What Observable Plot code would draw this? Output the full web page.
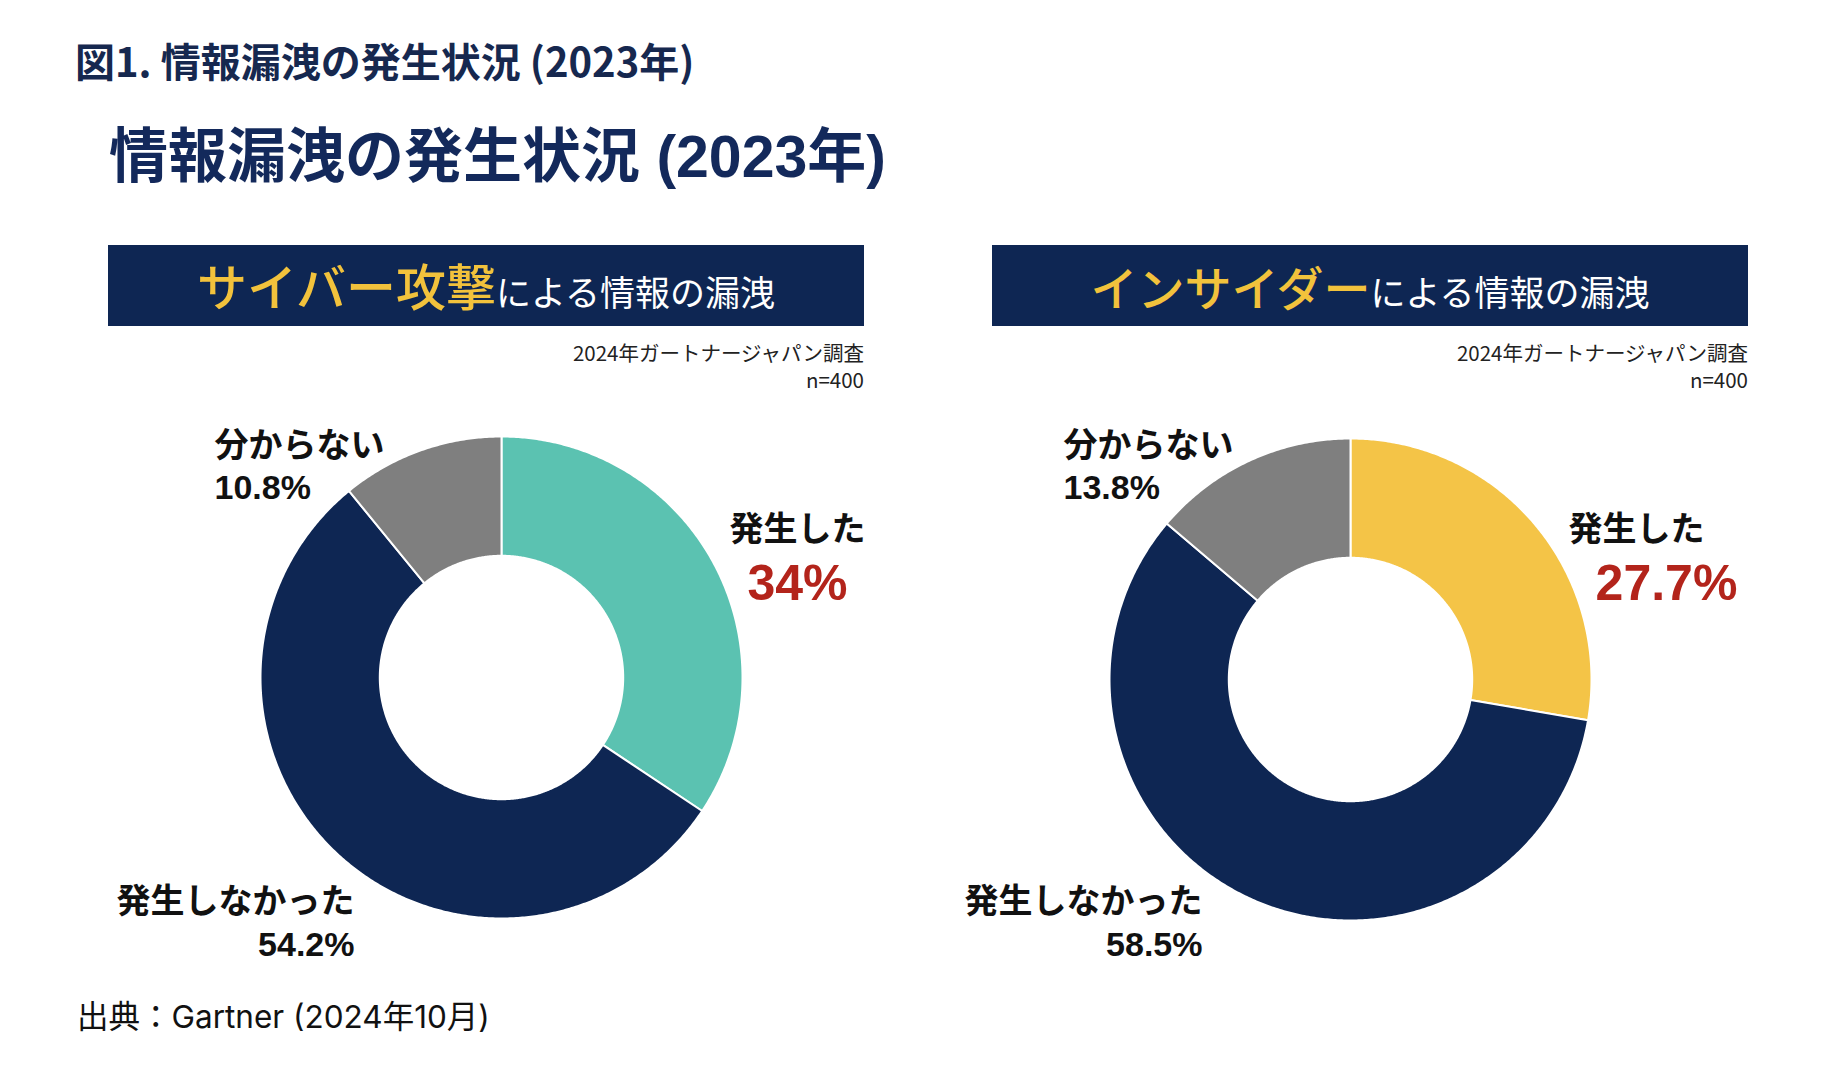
<!DOCTYPE html>
<html>
<head>
<meta charset="utf-8">
<script src="https://cdn.jsdelivr.net/npm/d3@7"></script>
<script src="https://cdn.jsdelivr.net/npm/@observablehq/plot@0.6"></script>
<style>
  html, body { margin: 0; padding: 0; background: #ffffff; }
  #page { position: relative; width: 1836px; height: 1076px; overflow: hidden; background: #ffffff; }
  .abs { position: absolute; white-space: nowrap; }
  .fig-label { left: 75px; top: 40px; font: 700 40px/1 "Noto Sans CJK JP", sans-serif; color: #16284f; }
  .chart-title { left: 109px; top: 128px; font: 700 59px/1 "Liberation Sans", "Noto Sans CJK JP", sans-serif; color: #13295b; }
  .banner { background: #0e2653; height: 81px; width: 756px; top: 245px; }
  .banner-text { position: absolute; left: 0; right: 0; top: 14px; text-align: center; font-size: 50px; line-height: 1; font-family: "Noto Sans CJK JP", sans-serif; }
  .banner-text .hl { color: #f2c23c; font-weight: 500; line-height: 1; }
  .banner-text .rest { color: #ffffff; font-size: 35px; font-weight: 400; line-height: 1; }
  .note { width: 756px; top: 339px; text-align: right; font: 400 20.5px/27px "Noto Sans CJK JP", sans-serif; color: #222; }
  .caption { left: 77px; top: 1001px; font: 400 31.5px/1 Inter, "Noto Sans CJK JP", sans-serif; color: #111; }
</style>
</head>
<body>
<div id="page"></div>
<script>
// ---- data ----
const categories = ["発生した", "発生しなかった", "分からない"];
const cyberValues = [34, 54.2, 10.8];
const insiderValues = [27.7, 58.5, 13.8];
const figureLabel = "図1. 情報漏洩の発生状況 (2023年)";
const chartTitle = "情報漏洩の発生状況 (2023年)";
const panelHighlights = ["サイバー攻撃", "インサイダー"];
const panelSuffix = "による情報の漏洩";
const surveyNote = ["2024年ガートナージャパン調査", "n=400"];
const sourceCaption = "出典：Gartner (2024年10月)";

// ---- styles / layout ----
const navy = "#0e2653";
const gray = "#7f7f7f";
const labelFont = '"Liberation Sans", "Noto Sans CJK JP", sans-serif';
const R = 241;            // outer radius in px
const innerRatio = 0.505; // hole size
const M = {left: 80, right: 180, top: 40, bottom: 80};

const page = document.getElementById("page");
function addDiv(cls, html, style) {
  const d = document.createElement("div");
  d.className = "abs " + cls;
  d.innerHTML = html;
  if (style) Object.assign(d.style, style);
  page.appendChild(d);
  return d;
}

addDiv("fig-label", figureLabel);
addDiv("chart-title", chartTitle);

const bannerLefts = [108, 992];
const highlightSizes = [50, 47];
panelHighlights.forEach((h, i) => {
  const b = addDiv("banner", "", {left: bannerLefts[i] + "px"});
  const t = document.createElement("div");
  t.className = "banner-text";
  t.innerHTML = `<span class="hl" style="font-size:${highlightSizes[i]}px">${h}</span><span class="rest">${panelSuffix}</span>`;
  b.appendChild(t);
  addDiv("note", surveyNote.join("<br>"), {left: bannerLefts[i] + "px"});
});

addDiv("caption", sourceCaption);

function donut(values, colors, lay) {
  const rows = categories.map((c, i) => ({category: c, value: values[i]}));
  const arcs = d3.pie().sort(null).value(d => d.value)(rows);
  const features = arcs.map(a => {
    const n = Math.max(2, Math.ceil((a.endAngle - a.startAngle) / (Math.PI / 360)));
    const ring = [];
    for (let i = 0; i <= n; i++) {
      const t = a.startAngle + (a.endAngle - a.startAngle) * i / n;
      ring.push([Math.sin(t), Math.cos(t)]);
    }
    for (let i = n; i >= 0; i--) {
      const t = a.startAngle + (a.endAngle - a.startAngle) * i / n;
      ring.push([innerRatio * Math.sin(t), innerRatio * Math.cos(t)]);
    }
    ring.push(ring[0]);
    return {type: "Feature", properties: a.data, geometry: {type: "Polygon", coordinates: [ring]}};
  });
  const common = {frameAnchor: "middle", fontFamily: labelFont, fontWeight: "bold"};
  return Plot.plot({
    width: M.left + 2 * R + M.right,
    height: M.top + 2 * R + M.bottom,
    marginLeft: M.left, marginRight: M.right, marginTop: M.top, marginBottom: M.bottom,
    projection: {type: "reflect-y", inset: 0, domain: {type: "MultiPoint", coordinates: [[-1, -1], [1, 1], [-1, 1], [1, -1]]}},
    color: {domain: categories, range: colors},
    style: {background: "transparent", overflow: "visible", fontFamily: labelFont},
    marks: [
      Plot.geo(features, {fill: d => d.properties.category, stroke: "#ffffff", strokeWidth: 2}),
      Plot.text([rows[0].category], {...common, dx: lay.occ[0], dy: lay.occ[1], textAnchor: "middle", lineAnchor: "middle", fontSize: 34, fill: "#111111"}),
      Plot.text([`${rows[0].value}%`], {...common, dx: lay.occPct[0], dy: lay.occPct[1], textAnchor: "middle", lineAnchor: "middle", fontSize: 50, fill: "#b3241b"}),
      Plot.text([`${rows[1].category}\n${rows[1].value}%`], {...common, dx: lay.none[0], dy: lay.none[1], textAnchor: "end", lineAnchor: "middle", lineHeight: 1.28, fontSize: 34, fill: "#111111"}),
      Plot.text([`${rows[2].category}\n${rows[2].value}%`], {...common, dx: lay.unk[0], dy: lay.unk[1], textAnchor: "start", lineAnchor: "middle", lineHeight: 1.22, fontSize: 34, fill: "#111111"})
    ]
  });
}

const donuts = [
  {values: cyberValues, colors: ["#5bc2b1", navy, gray], center: [501, 677],
   lay: {occ: [296, -147], occPct: [296, -94], none: [-147, 243], unk: [-287, -213]}},
  {values: insiderValues, colors: ["#f4c447", navy, gray], center: [1350, 679],
   lay: {occ: [286, -149], occPct: [316, -96], none: [-148, 241], unk: [-287, -215]}}
];

donuts.forEach(d => {
  const svg = donut(d.values, d.colors, d.lay);
  const wrap = addDiv("", "", {left: (d.center[0] - R - M.left) + "px", top: (d.center[1] - R - M.top) + "px"});
  wrap.appendChild(svg);
});
</script>
</body>
</html>
